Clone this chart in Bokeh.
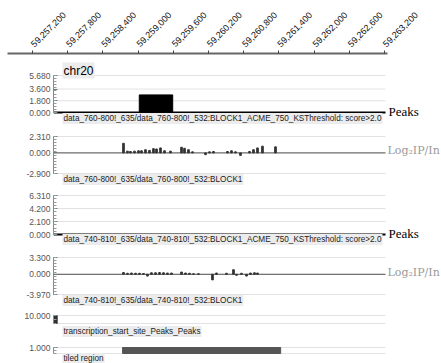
from bokeh.plotting import figure
from bokeh.layouts import column, row
from bokeh.models import FixedTicker, NumeralTickFormatter, Label
from bokeh.embed import file_html
from bokeh.resources import INLINE

# ---------------- data ----------------
chrom = "chr20"

ruler_ticks = [59257200, 59257800, 59258400, 59259000, 59259600, 59260200,
               59260800, 59261400, 59262000, 59262600, 59263200]
ruler_start, ruler_end = 59256774, 59263251
view_start, view_end = 59257558, 59263217

# ACME peaks, sample 760-800
peaks_760_start = [59259020]
peaks_760_end = [59259590]
peaks_760_score = [2.70]

# log2 IP/Input, sample 760-800
log2_760_pos = [59258751, 59258819, 59258870, 59258939, 59259007, 59259058,
                59259126, 59259194, 59259262, 59259314, 59259382, 59259450,
                59259552, 59259740, 59259791, 59259859, 59259927, 59260149,
                59260217, 59260285, 59260524, 59260592, 59260660, 59260745,
                59260899, 59260967, 59261035, 59261120, 59261342]
log2_760_val = [1.35, 0.25, 0.20, 0.25, 0.30, 0.30,
                0.45, 0.35, 0.60, 0.55, 0.70, 0.30,
                0.25, 0.80, 0.65, 0.45, 0.15, -0.25,
                0.15, 0.20, 0.20, 0.30, 0.15, -0.35,
                0.20, 0.45, 0.70, 0.95, 0.85]

# ACME peaks, sample 740-810 (none above threshold)
peaks_740_start = []
peaks_740_end = []
peaks_740_score = []

# log2 IP/Input, sample 740-810
log2_740_pos = [59258751, 59258819, 59258887, 59258956, 59259024, 59259092,
                59259160, 59259228, 59259297, 59259365, 59259433, 59259501,
                59259569, 59259740, 59259808, 59259876, 59259944, 59260029,
                59260268, 59260336, 59260507, 59260626, 59260677, 59260762,
                59260848, 59260916, 59260984, 59261035]
log2_740_val = [0.35, 0.20, 0.25, 0.20, 0.20, 0.15,
                -0.35, 0.30, 0.30, 0.35, 0.30, 0.25,
                0.25, 0.45, 0.25, 0.20, 0.10, 0.10,
                -1.10, 0.25, 0.20, 0.90, -0.20, 0.20,
                -0.35, 0.25, 0.30, 0.25]

# transcription start sites
tss_start = [59257560]
tss_end = [59257620]
tss_score = [10.0]

# tiled region on the array
tiled_start = [59258735]
tiled_end = [59261430]
tiled_score = [1.0]

track_titles = [
    "data_760-800!_635/data_760-800!_532:BLOCK1_ACME_750_KSThreshold: score>2.0",
    "data_760-800!_635/data_760-800!_532:BLOCK1",
    "data_740-810!_635/data_740-810!_532:BLOCK1_ACME_750_KSThreshold: score>2.0",
    "data_740-810!_635/data_740-810!_532:BLOCK1",
    "transcription_start_site_Peaks_Peaks",
    "tiled region",
]
track_kinds = ["peaks", "log2", "peaks", "log2", "tss", "tiled"]
track_lo = [0.0, -2.90, 0.0, -3.97, 0.0, 0.0]
track_hi = [5.68, 2.31, 6.31, 3.30, 10.0, 1.0]
track_ticks = [[0.0, 1.8, 3.6, 5.68], [-2.9, 0.0, 2.31], [0.0, 2.1, 4.2, 6.31],
               [-3.97, 0.0, 3.3], [10.0], [1.0]]
side_labels = ["Peaks", "Log\u2082IP/In", "Peaks", "Log\u2082IP/In", None, None]

# ---------------- layout ----------------
W = 441
TRACK_LEFT = 53
BP_PER_PX = 600 / 35.2
RULER_H = 57
# (space above, data band height, space below) of each track panel, px
track_box = [(18, 37, 14), (10, 37, 13), (9, 39, 13), (10, 37, 13), (8, 8, 15), (9, 6, 10)]
title_gap = [6, 6, 5, 6, 8, 5]

SANS = "Liberation Sans"

# ---- coordinate ruler ----
ruler = figure(width=W, height=RULER_H, x_range=(ruler_start, ruler_end), y_range=(0, 1),
               x_axis_location="above", y_axis_location=None,
               toolbar_location=None, output_backend="svg",
               min_border_left=7, min_border_right=W - 387,
               min_border_top=53, min_border_bottom=0)
ruler.outline_line_color = None
ruler.grid.visible = False
ax = ruler.xaxis[0]
ax.ticker = FixedTicker(ticks=ruler_ticks, minor_ticks=[])
ax.formatter = NumeralTickFormatter(format="0,0")
ax.major_label_orientation = 0.785
ax.major_label_text_font = SANS
ax.major_label_text_font_size = "9px"
ax.major_label_text_color = "#111111"
ax.major_label_standoff = 5
ax.axis_line_color = "#666666"
ax.axis_line_width = 2
ax.major_tick_line_color = "#444444"
ax.major_tick_out = 3
ax.major_tick_in = 0
ax.minor_tick_line_color = None

# ---- data tracks ----
tracks = []
for i in range(6):
    lo, hi = track_lo[i], track_hi[i]
    bt, fh, bb = track_box[i]
    spp = (hi - lo) / fh                      # data units per pixel
    x_end = view_start + (W - TRACK_LEFT) * BP_PER_PX
    p = figure(width=W, height=bt + fh + bb,
               x_range=(view_start, x_end), y_range=(lo - bb * spp, hi + bt * spp),
               x_axis_location=None, toolbar_location=None, output_backend="svg",
               min_border_left=TRACK_LEFT, min_border_right=0,
               min_border_top=0, min_border_bottom=0)
    p.outline_line_color = None
    p.grid.visible = False

    nminor = 12 if fh > 20 else 2
    minor = [lo + k * (hi - lo) / nminor for k in range(nminor + 1)]
    ya = p.yaxis[0]
    ya.bounds = (lo, hi)
    ya.ticker = FixedTicker(ticks=track_ticks[i], minor_ticks=minor)
    ya.formatter = NumeralTickFormatter(format="0.000")
    ya.major_label_text_font = SANS
    ya.major_label_text_font_size = "8.5px"
    ya.major_label_text_color = "#555555"
    ya.major_label_standoff = 3
    ya.axis_line_color = "#888888"
    ya.major_tick_line_color = "#777777"
    ya.minor_tick_line_color = "#999999"
    ya.major_tick_in = 4
    ya.major_tick_out = 0
    ya.minor_tick_in = 3
    ya.minor_tick_out = 0

    # horizontal guide lines across the viewed region
    guides = sorted(set(track_ticks[i] + [lo]))
    p.segment(x0=view_start, x1=view_end, y0=guides, y1=guides,
              line_color="#e2e2e2", line_width=1)

    kind = track_kinds[i]
    if kind == "peaks":
        if i == 0:
            p.quad(left=peaks_760_start, right=peaks_760_end, bottom=0, top=peaks_760_score,
                   fill_color="black", line_color="black")
        else:
            p.quad(left=peaks_740_start, right=peaks_740_end, bottom=0, top=peaks_740_score,
                   fill_color="black", line_color="black")
        p.segment(x0=view_start, x1=view_end, y0=0, y1=0, line_color="black", line_width=2)
    elif kind == "log2":
        pos, val = (log2_760_pos, log2_760_val) if i == 1 else (log2_740_pos, log2_740_val)
        p.segment(x0=view_start, x1=view_end, y0=0, y1=0, line_color="#555555", line_width=1)
        p.vbar(x=pos, width=28, bottom=0, top=val, fill_color="#333333", line_color="#333333")
    elif kind == "tss":
        p.quad(left=tss_start, right=tss_end, bottom=0, top=tss_score,
               fill_color="#333333", line_color="#222222")
    else:
        p.quad(left=tiled_start, right=tiled_end, bottom=0, top=tiled_score,
               fill_color="#555555", line_color="#555555")

    # track title below the panel
    p.add_layout(Label(x=view_start, x_offset=62 - TRACK_LEFT,
                       y=lo - title_gap[i] * spp,
                       text=track_titles[i], text_font=SANS, text_font_size="8.2px",
                       text_color="#222222", text_align="left", text_baseline="middle",
                       background_fill_color="#ececec", padding=1))

    # data type name at the right end of the baseline
    if side_labels[i] == "Peaks":
        p.add_layout(Label(x=view_end, x_offset=3, y=0 + 1 * spp,
                           text=side_labels[i], text_font="Liberation Serif",
                           text_font_size="13px", text_color="black",
                           text_align="left", text_baseline="alphabetic"))
    elif side_labels[i]:
        p.add_layout(Label(x=view_end, x_offset=2, y=0 + 2 * spp,
                           text=side_labels[i], text_font="DejaVu Serif",
                           text_font_size="11px", text_color="#9a9a9a",
                           text_align="left", text_baseline="middle"))

    if i == 0:
        p.add_layout(Label(x=view_start, x_offset=62 - TRACK_LEFT, y=hi + 5 * spp,
                           text=chrom, text_font=SANS, text_font_size="12px",
                           text_color="black", text_align="left", text_baseline="middle",
                           background_fill_color="#ececec", padding=1))
    tracks.append(p)

layout = column(row(ruler), column(*tracks, spacing=0), spacing=0)
open("out.html", "w").write(file_html(layout, INLINE))
